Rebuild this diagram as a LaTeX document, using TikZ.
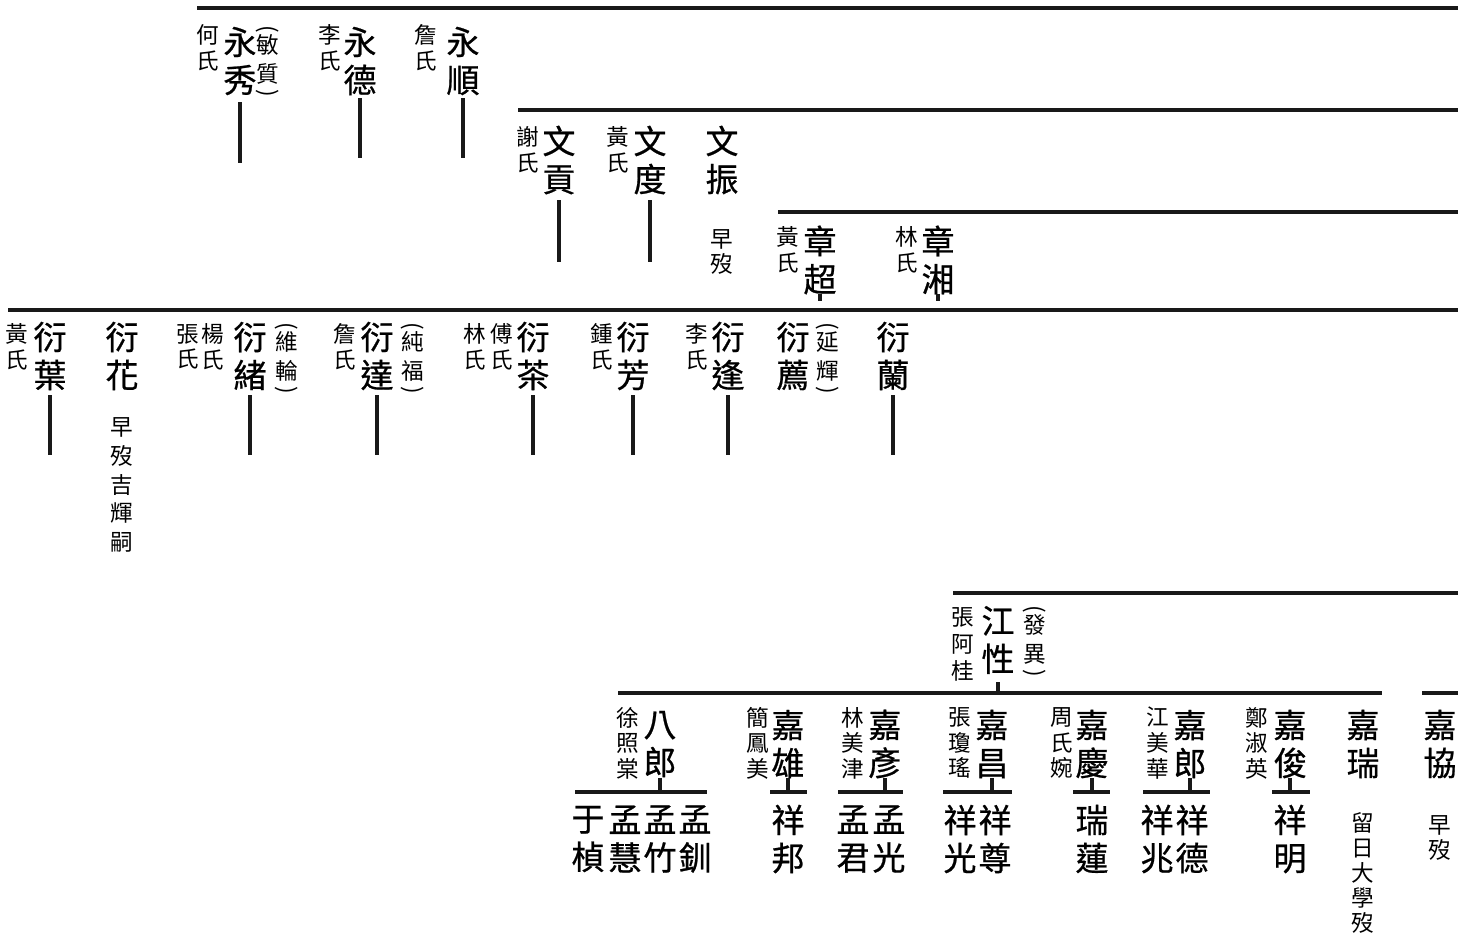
\documentclass[tikz,border=0pt]{standalone}
\usepackage{fontspec}
\usepackage{graphicx}
\setmainfont{Noto Sans CJK TC}
\newfontfamily\bigcjk{Noto Sans CJK TC}[FakeBold=0.7]
\newcommand{\vpo}{\rotatebox[origin=c]{-90}{(}}
\newcommand{\vpc}{\rotatebox[origin=c]{-90}{)}}
\newcommand{\stemln}[3]{\draw[stem] (#1 |- 0,#2) -- (#1 |- 0,#3);}
\tikzset{
 big/.style={font=\bigcjk\fontsize{16.5pt}{19pt}\selectfont, align=center, inner sep=0pt},
 sm/.style={font=\fontsize{11.3pt}{#1}\selectfont, align=center, inner sep=0pt},
 sm/.default=12.8pt,
 gen/.style={line width=2pt, draw=black!90},
 stem/.style={line width=1.8pt, draw=black!90},
}
\begin{document}
\begin{tikzpicture}[x=0.5pt,y=-0.5pt]
\useasboundingbox (0,0) rectangle (1458,933);
% ---------- generation 1
\coordinate (g1a) at (197,8); \coordinate (g1b) at (1458,8);
\draw[gen] (g1a) -- (g1b);
\node[sm] (heshi) at (208,48) {何\\氏};
\node[big] (yongxiu) at (240,61) {永\\秀};
\node[sm=14.5pt] (minzhi) at (268,63) {\vpo\\[-6pt]敏\\質\\[-5.5pt]\vpc};
\stemln{yongxiu}{102}{163}
\node[sm] (lishi1) at (330,48) {李\\氏};
\node[big] (yongde) at (360,61) {永\\德};
\stemln{yongde}{98}{158}
\node[sm] (zhanshi1) at (426,48) {詹\\氏};
\node[big] (yongshun) at (463,61) {永\\順};
\stemln{yongshun}{98}{158}
% ---------- generation 2
\coordinate (g2a) at (518,110); \coordinate (g2b) at (1458,110);
\draw[gen] (g2a) -- (g2b);
\node[sm] (xieshi) at (528,150) {謝\\氏};
\node[big] (wengong) at (559,160) {文\\貢};
\stemln{wengong}{200}{262}
\node[sm] (huangshi1) at (618,150) {黃\\氏};
\node[big] (wendu) at (650,160) {文\\度};
\stemln{wendu}{200}{262}
\node[big] (wenzhen) at (722,160) {文\\振};
\node[sm] (zaomo1) at (722,252) {早\\歿};
% ---------- generation 3
\coordinate (g3a) at (778,212); \coordinate (g3b) at (1458,212);
\draw[gen] (g3a) -- (g3b);
\node[sm] (huangshi2) at (788,250) {黃\\氏};
\node[big] (zhangchao) at (820,260) {章\\超};
\stemln{zhangchao}{294}{301}
\node[sm] (linshi1) at (907,250) {林\\氏};
\node[big] (zhangxiang) at (938,260) {章\\湘};
\stemln{zhangxiang}{294}{301}
% ---------- generation 4
\coordinate (g4a) at (8,310); \coordinate (g4b) at (1458,310);
\draw[gen] (g4a) -- (g4b);
\node[sm] (huangshi3) at (17,347) {黃\\氏};
\node[big] (yanye) at (50,356) {衍\\葉};
\stemln{yanye}{395}{455}
\node[big] (yanhua) at (122,356) {衍\\花};
\node[sm=14.3pt] (zaomo2) at (122,485) {早\\歿\\吉\\輝\\嗣};
\node[sm] (zhangshi1) at (188,347) {張\\氏};
\node[sm] (yangshi) at (213,347) {楊\\氏};
\node[big] (yanxu) at (250,356) {衍\\緒};
\node[sm=14.5pt] (weilun) at (287,360) {\vpo\\[-6pt]維\\輪\\[-5.5pt]\vpc};
\stemln{yanxu}{395}{455}
\node[sm] (zhanshi2) at (345,347) {詹\\氏};
\node[big] (yanda) at (377,356) {衍\\達};
\node[sm=14.5pt] (chunfu) at (413,360) {\vpo\\[-6pt]純\\福\\[-5.5pt]\vpc};
\stemln{yanda}{395}{455}
\node[sm] (linshi2) at (475,347) {林\\氏};
\node[sm] (fushi) at (502,347) {傅\\氏};
\node[big] (yancha) at (533,356) {衍\\茶};
\stemln{yancha}{395}{455}
\node[sm] (zhongshi) at (602,347) {鍾\\氏};
\node[big] (yanfang) at (633,356) {衍\\芳};
\stemln{yanfang}{395}{455}
\node[sm] (lishi2) at (697,347) {李\\氏};
\node[big] (yanfeng) at (728,356) {衍\\逢};
\stemln{yanfeng}{395}{455}
\node[big] (yanjian) at (793,356) {衍\\薦};
\node[sm=14.5pt] (yanhui) at (828,360) {\vpo\\[-6pt]延\\輝\\[-5.5pt]\vpc};
\node[big] (yanlan) at (893,356) {衍\\蘭};
\stemln{yanlan}{395}{455}
% ---------- generation 5
\coordinate (g5a) at (953,593); \coordinate (g5b) at (1458,593);
\draw[gen] (g5a) -- (g5b);
\node[sm=13.5pt] (zhangagui) at (963,644) {張\\阿\\桂};
\node[big] (jiangxing) at (998,640) {江\\性};
\node[sm=14.5pt] (fayi) at (1035,643) {\vpo\\[-6pt]發\\異\\[-5.5pt]\vpc};
\stemln{jiangxing}{682}{693}
% ---------- generation 6
\coordinate (g6a) at (618,693); \coordinate (g6b) at (1382,693);
\coordinate (g6c) at (1422,693); \coordinate (g6d) at (1458,693);
\draw[gen] (g6a) -- (g6b);
\draw[gen] (g6c) -- (g6d);
% 八郎
\node[sm] (xuzhaotang) at (628,743) {徐\\照\\棠};
\node[big] (balang) at (660,744) {八\\郎};
\stemln{balang}{778}{792}
\coordinate (b1) at (575,792); \coordinate (b2) at (707,792);
\draw[gen] (b1) -- (b2);
\node[big] (yuzhen) at (588,839) {于\\楨};
\node[big] (menghui) at (625,839) {孟\\慧};
\node[big] (mengzhu) at (660,839) {孟\\竹};
\node[big] (mengchuan) at (695,839) {孟\\釧};
% 嘉雄
\node[sm] (jianfengmei) at (758,743) {簡\\鳳\\美};
\node[big] (jiaxiong) at (788,744) {嘉\\雄};
\stemln{jiaxiong}{778}{792}
\coordinate (c1) at (770,792); \coordinate (c2) at (807,792);
\draw[gen] (c1) -- (c2);
\node[big] (xiangbang) at (788,839) {祥\\邦};
% 嘉彥
\node[sm] (linmeijin) at (853,743) {林\\美\\津};
\node[big] (jiayan) at (885,744) {嘉\\彥};
\stemln{jiayan}{778}{792}
\coordinate (d1) at (838,792); \coordinate (d2) at (903,792);
\draw[gen] (d1) -- (d2);
\node[big] (mengjun) at (853,839) {孟\\君};
\node[big] (mengguang) at (889,839) {孟\\光};
% 嘉昌
\node[sm] (zhangqiongyao) at (960,743) {張\\瓊\\瑤};
\node[big] (jiachang) at (992,744) {嘉\\昌};
\stemln{jiachang}{778}{792}
\coordinate (e1) at (943,792); \coordinate (e2) at (1012,792);
\draw[gen] (e1) -- (e2);
\node[big] (xiangguang) at (960,839) {祥\\光};
\node[big] (xiangzun) at (995,839) {祥\\尊};
% 嘉慶
\node[sm] (zhoushiwan) at (1062,743) {周\\氏\\婉};
\node[big] (jiaqing) at (1092,744) {嘉\\慶};
\stemln{jiaqing}{778}{792}
\coordinate (f1) at (1073,792); \coordinate (f2) at (1110,792);
\draw[gen] (f1) -- (f2);
\node[big] (ruilian) at (1092,839) {瑞\\蓮};
% 嘉郎
\node[sm] (jiangmeihua) at (1158,743) {江\\美\\華};
\node[big] (jialang) at (1190,744) {嘉\\郎};
\stemln{jialang}{778}{792}
\coordinate (h1) at (1143,792); \coordinate (h2) at (1210,792);
\draw[gen] (h1) -- (h2);
\node[big] (xiangzhao) at (1157,839) {祥\\兆};
\node[big] (xiangde) at (1192,839) {祥\\德};
% 嘉俊
\node[sm] (zhengshuying) at (1257,743) {鄭\\淑\\英};
\node[big] (jiajun) at (1290,744) {嘉\\俊};
\stemln{jiajun}{778}{792}
\coordinate (k1) at (1272,792); \coordinate (k2) at (1310,792);
\draw[gen] (k1) -- (k2);
\node[big] (xiangming) at (1290,839) {祥\\明};
% 嘉瑞
\node[big] (jiarui) at (1363,744) {嘉\\瑞};
\node[sm=12.5pt] (liuri) at (1363,873) {留\\日\\大\\學\\歿};
% 嘉協
\node[big] (jiaxie) at (1440,744) {嘉\\協};
\node[sm=12.5pt] (zaomo3) at (1440,838) {早\\歿};
\end{tikzpicture}
\end{document}
